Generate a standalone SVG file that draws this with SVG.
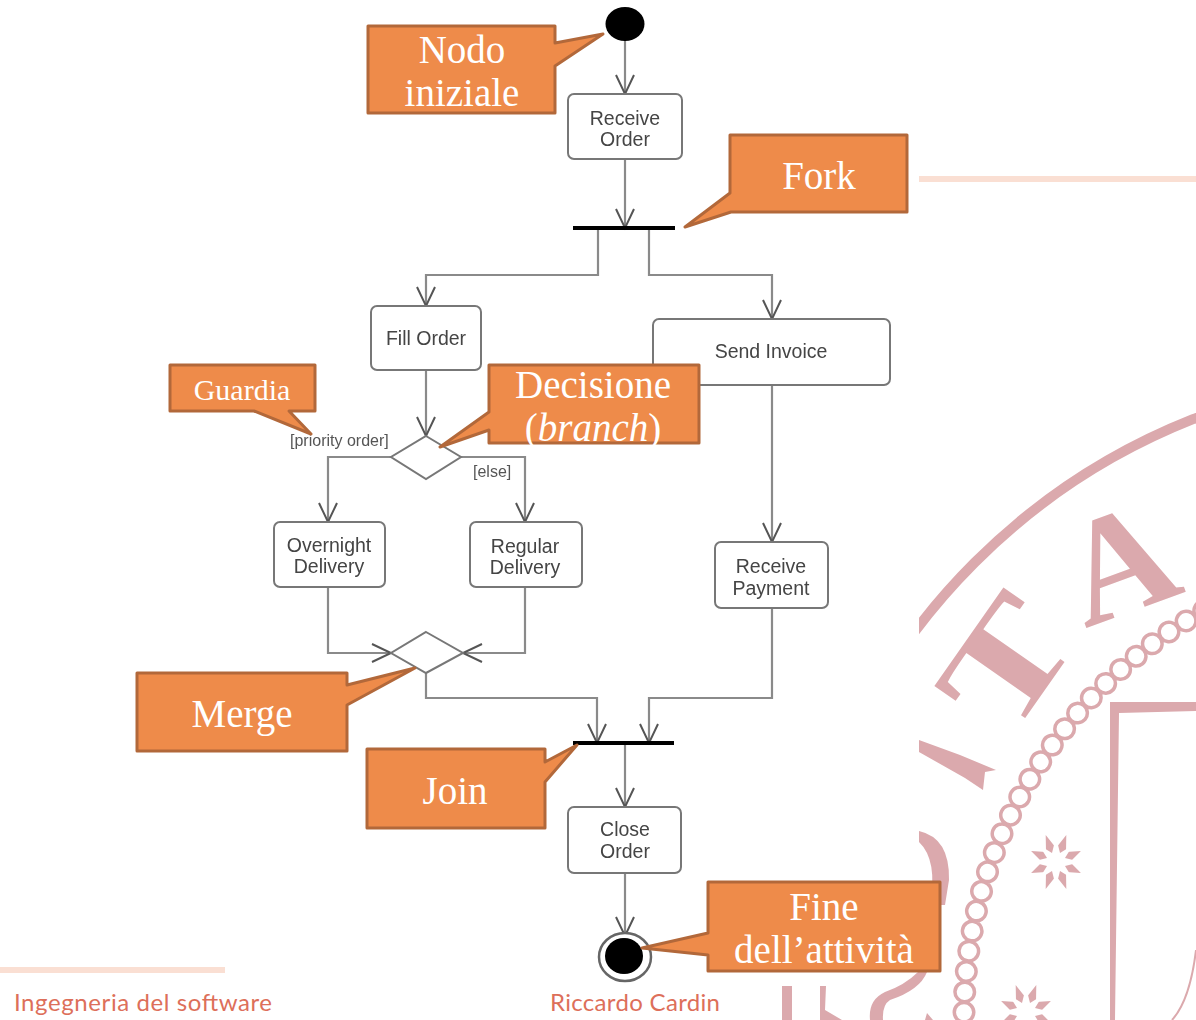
<svg xmlns="http://www.w3.org/2000/svg" width="1196" height="1020" viewBox="0 0 1196 1020">
<style>
.pk{fill:#DBA9AD;stroke:none}
.seal{font-family:"Liberation Serif",serif;font-weight:bold;font-size:135px;fill:#DBA9AD;text-anchor:middle}
.cn{fill:none;stroke:#8a8a8a;stroke-width:2.2;marker-end:url(#v)}
.nb{fill:#fff;stroke:#777;stroke-width:2}
.lb{font-family:"Liberation Sans",Arial,sans-serif;font-size:19.5px;fill:#444;text-anchor:middle}
.gd{font-family:"Liberation Sans",Arial,sans-serif;font-size:16px;fill:#555}
.co{fill:#EE8B4A;stroke:#B2683A;stroke-width:3;stroke-linejoin:round}
.ct{font-family:"Liberation Serif",serif;font-size:39px;fill:#fff;text-anchor:middle}
.ft{font-family:Lato,"Open Sans",sans-serif;font-size:24px;fill:#DD6F5A}
</style>
<defs>
<marker id="v" markerUnits="userSpaceOnUse" markerWidth="24" markerHeight="24" refX="20" refY="10" orient="auto"><path d="M1 1L20 10L1 19" fill="none" stroke="#555" stroke-width="2"/></marker>
<filter id="soft" x="0" y="0" width="1196" height="1020" filterUnits="userSpaceOnUse"><feGaussianBlur stdDeviation="0.55"/></filter>
<clipPath id="sc"><rect x="919" y="183" width="277" height="837"/></clipPath>
<g id="star"><polygon class="pk" points="0,-14 10.3,-27 10,-10 24.9,-11 14,0 24.9,11 10,10 10.3,27 0,14 -10.3,27 -10,10 -24.9,11 -14,0 -24.9,-11 -10,-10 -10.3,-27"/><polygon fill="#fff" points="0,-25 4,-9 17,-17 9,-4 25,0 9,4 17,17 4,9 0,25 -4,9 -17,17 -9,4 -25,0 -9,-4 -17,-17 -4,-9"/></g>
</defs>
<rect width="1196" height="1020" fill="#fff"/>
<g id="seal">
<g clip-path="url(#sc)">
<circle cx="1430" cy="1018" r="644" fill="none" stroke="#DBA9AD" stroke-width="10"/>
<circle cx="1430" cy="1018" r="466" fill="none" stroke="#DBA9AD" stroke-width="23" stroke-linecap="round" stroke-dasharray="0.01 20.4"/>
<circle cx="1430" cy="1018" r="466" fill="none" stroke="#fff" stroke-width="16" stroke-linecap="round" stroke-dasharray="0.01 20.4"/>
<text class="seal" transform="translate(1045,690) rotate(-55) scale(1.4,1.05)">T</text>
<text class="seal" style="font-size:150px" transform="translate(1136,610) rotate(-20)">A</text>
<path class="pk" d="M919 740L960 755L996 770L985 772L983 790L965 778L919 752Z"/>
<path class="pk" d="M919 831Q950 838 949 880L945 905L930 905Q938 860 919 842Z"/>
<use href="#star" x="1056" y="862"/>
<use href="#star" x="1026" y="1012"/>
<path class="pk" d="M1110 702H1196V711L1119 713L1115 1020H1110Z"/>
<path d="M1196 950Q1190 1000 1172 1020" fill="none" stroke="#DBA9AD" stroke-width="2"/>
</g>
<path class="pk" d="M782 986H792V1020H782ZM820 986H826L825 1010L842 1020H820ZM870 1020Q868 1000 885 992Q905 985 918 972H927Q920 990 890 1000Q882 1005 883 1020ZM927 1013L933 1020H925Z"/>
</g>
<g id="rules">
<rect x="919" y="176" width="277" height="6" fill="#FADFD3"/>
<rect x="0" y="967" width="225" height="6" fill="#FADFD3"/>
</g>
<g id="diagram" filter="url(#soft)">
<g id="connectors">
<path class="cn" d="M625 40V94"/>
<path class="cn" d="M625 159V228"/>
<path class="cn" d="M598 228V275H426V306"/>
<path class="cn" d="M649 228V275H772V319"/>
<path class="cn" d="M426 370V436"/>
<path class="cn" d="M391 457H328V522"/>
<path class="cn" d="M459 457H525V522"/>
<path class="cn" d="M328 587V653H391"/>
<path class="cn" d="M525 587V653H463"/>
<path class="cn" d="M426 673V698H597V743"/>
<path class="cn" d="M772 608V698H649V743"/>
<path class="cn" d="M625 743V807"/>
<path class="cn" d="M625 873V936"/>
<path class="cn" d="M772 385V542"/>
</g>
<g id="start"><ellipse cx="625" cy="24" rx="19.5" ry="17" fill="#000"/></g>
<g id="receive-order"><rect class="nb" x="568" y="94" width="114" height="65" rx="6"/><text class="lb" x="625" y="125">Receive</text><text class="lb" x="625" y="146">Order</text></g>
<g id="fork-bar"><rect x="573" y="226" width="102" height="4" fill="#000"/></g>
<g id="fill-order"><rect class="nb" x="371" y="306" width="110" height="64" rx="6"/><text class="lb" x="426" y="345">Fill Order</text></g>
<g id="send-invoice"><rect class="nb" x="653" y="319" width="237" height="66" rx="6"/><text class="lb" x="771" y="358">Send Invoice</text></g>
<g id="decision"><polygon class="nb" points="426,436 461,457 426,479 391,457"/><text class="gd" x="290" y="446">[priority order]</text><text class="gd" x="473" y="477">[else]</text></g>
<g id="overnight"><rect class="nb" x="274" y="522" width="111" height="65" rx="6"/><text class="lb" x="329" y="552">Overnight</text><text class="lb" x="329" y="573">Delivery</text></g>
<g id="regular"><rect class="nb" x="470" y="522" width="112" height="65" rx="6"/><text class="lb" x="525" y="553">Regular</text><text class="lb" x="525" y="574">Delivery</text></g>
<g id="receive-payment"><rect class="nb" x="715" y="542" width="113" height="66" rx="6"/><text class="lb" x="771" y="573">Receive</text><text class="lb" x="771" y="595">Payment</text></g>
<g id="merge-node"><polygon class="nb" points="426,632 463,653 426,673 391,653"/></g>
<g id="join-bar"><rect x="573" y="741" width="101" height="4" fill="#000"/></g>
<g id="close-order"><rect class="nb" x="568" y="807" width="113" height="66" rx="6"/><text class="lb" x="625" y="836">Close</text><text class="lb" x="625" y="858">Order</text></g>
<g id="end"><ellipse cx="625" cy="957" rx="26" ry="24" fill="#fff" stroke="#666" stroke-width="2.5"/><ellipse cx="624" cy="956" rx="19" ry="18" fill="#000"/></g>
</g>
<g id="callout-nodo"><path class="co" d="M368 26H555V43L603 34L555 66V113H368Z"/><text class="ct" x="462" y="63">Nodo</text><text class="ct" x="462" y="106">iniziale</text></g>
<g id="callout-fork"><path class="co" d="M730 135H907V212H731L685 227L730 193Z"/><text class="ct" x="819" y="189">Fork</text></g>
<g id="callout-guardia"><path class="co" d="M170 365H315V411H289L311 434L254 411H170Z"/><text class="ct" style="font-size:30px" x="242" y="400">Guardia</text></g>
<g id="callout-decisione"><path class="co" d="M489 365H699V443H489V430L440 447L489 412Z"/><text class="ct" x="593" y="398">Decisione</text><text class="ct" x="593" y="441">(<tspan font-style="italic">branch</tspan>)</text></g>
<g id="callout-merge"><path class="co" d="M137 673H347V685L415 668L347 705V751H137Z"/><text class="ct" x="242" y="727">Merge</text></g>
<g id="callout-join"><path class="co" d="M367 749H545V762L577 745L545 782V828H367Z"/><text class="ct" x="455" y="804">Join</text></g>
<g id="callout-fine"><path class="co" d="M708 882H940V971H708V955L642 948L708 933Z"/><text class="ct" x="824" y="920">Fine</text><text class="ct" x="824" y="963">dell’attività</text></g>
<g id="footer"><text class="ft" x="14" y="1011" textLength="258">Ingegneria del software</text><text class="ft" x="550" y="1011" textLength="170">Riccardo Cardin</text></g>
</svg>
